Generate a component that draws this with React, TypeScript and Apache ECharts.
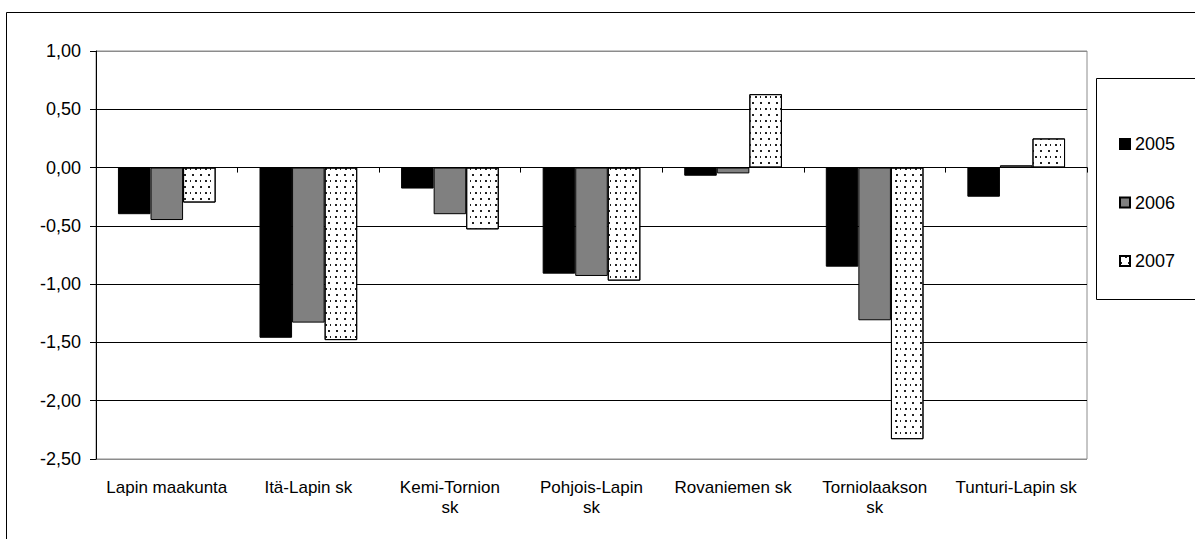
import React, { useEffect, useRef } from "react";
import * as echarts from "echarts";

const categories = [
  "Lapin maakunta",
  "Itä-Lapin sk",
  "Kemi-Tornion\nsk",
  "Pohjois-Lapin\nsk",
  "Rovaniemen sk",
  "Torniolaakson\nsk",
  "Tunturi-Lapin sk",
];
const seriesNames = ["2005", "2006", "2007"];
const values2005 = [-0.4, -1.46, -0.18, -0.91, -0.07, -0.85, -0.25];
const values2006 = [-0.45, -1.33, -0.4, -0.93, -0.05, -1.31, 0.02];
const values2007 = [-0.3, -1.48, -0.53, -0.97, 0.63, -2.33, 0.25];
const yMin = -2.5;
const yMax = 1;
const yStep = 0.5;

const FONT = "'Liberation Sans', Arial, sans-serif";

export default function App() {
  const ref = useRef<HTMLDivElement>(null);
  useEffect(() => {
    if (!ref.current) return;
    const chart = echarts.init(ref.current, null, { renderer: "svg" });
    const border = { borderColor: "#000", borderWidth: 1 };
    chart.setOption({
      animation: false,
      backgroundColor: "#fff",
      textStyle: { fontFamily: FONT },
      grid: {
        left: 96,
        right: 108,
        top: 51,
        bottom: 80,
        show: true,
        borderColor: "#8c8c8c",
        borderWidth: 1,
        backgroundColor: "transparent",
      },
      legend: {
        orient: "vertical",
        left: 1114,
        top: 129,
        itemWidth: 10,
        itemHeight: 10,
        itemGap: 38.5,
        icon: "rect",
        data: seriesNames,
        textStyle: { fontSize: 18, color: "#000", lineHeight: 20, fontFamily: FONT },
      },
      graphic: [
        {
          type: "rect",
          shape: { x: 6.5, y: 12.5, width: 1200, height: 540 },
          style: { fill: "none", stroke: "#000", lineWidth: 1 },
          silent: true,
          z: -1,
        },
        {
          type: "rect",
          shape: { x: 1096.5, y: 78.5, width: 120, height: 221 },
          style: { fill: "#fff", stroke: "#000", lineWidth: 1 },
          silent: true,
          z: 0,
        },
      ],
      xAxis: [
        {
          type: "category",
          data: categories,
          axisLine: { onZero: true, lineStyle: { color: "#000", width: 1 } },
          axisTick: { show: true, alignWithLabel: false, length: 5, lineStyle: { color: "#000" } },
          axisLabel: { show: false },
        },
        {
          type: "category",
          data: categories,
          position: "bottom",
          axisLine: { show: false, onZero: false },
          axisTick: { show: false },
          axisLabel: {
            show: true,
            interval: 0,
            margin: 18,
            fontSize: 17,
            lineHeight: 20,
            color: "#000",
            fontFamily: FONT,
          },
        },
      ],
      yAxis: {
        type: "value",
        min: yMin,
        max: yMax,
        interval: yStep,
        axisLine: { show: true, lineStyle: { color: "#000", width: 1 } },
        axisTick: { show: true, length: 6, lineStyle: { color: "#000" } },
        axisLabel: {
          margin: 15,
          fontSize: 18,
          color: "#000",
          fontFamily: FONT,
          formatter: (v: number) => v.toFixed(2).replace(".", ","),
        },
        splitLine: {
          show: true,
          lineStyle: {
            color: ["#8c8c8c", "#000", "#000", "#000", "#000", "#000", "#000", "#8c8c8c"],
            width: 1,
          },
        },
      },
      series: [
        {
          name: seriesNames[0],
          type: "bar",
          data: values2005,
          barGap: "0%",
          barCategoryGap: "31%",
          itemStyle: { color: "#000", ...border },
        },
        {
          name: seriesNames[1],
          type: "bar",
          data: values2006,
          barGap: "0%",
          barCategoryGap: "31%",
          itemStyle: { color: "#808080", ...border },
        },
        {
          name: seriesNames[2],
          type: "bar",
          data: values2007,
          barGap: "0%",
          barCategoryGap: "31%",
          itemStyle: {
            color: "#fff",
            ...border,
            decal: {
              symbol: "rect",
              symbolSize: 1,
              color: "#222",
              dashArrayX: [
                [1.4, 5.9],
                [0.01, 3.64, 1.4, 2.25],
              ],
              dashArrayY: [1.4, 3.3],
              rotation: 0,
            },
          },
        },
      ],
    });
    return () => chart.dispose();
  }, []);
  return (
    <div
      ref={ref}
      style={{ position: "fixed", left: 0, top: 0, width: 1195, height: 539 }}
    />
  );
}
